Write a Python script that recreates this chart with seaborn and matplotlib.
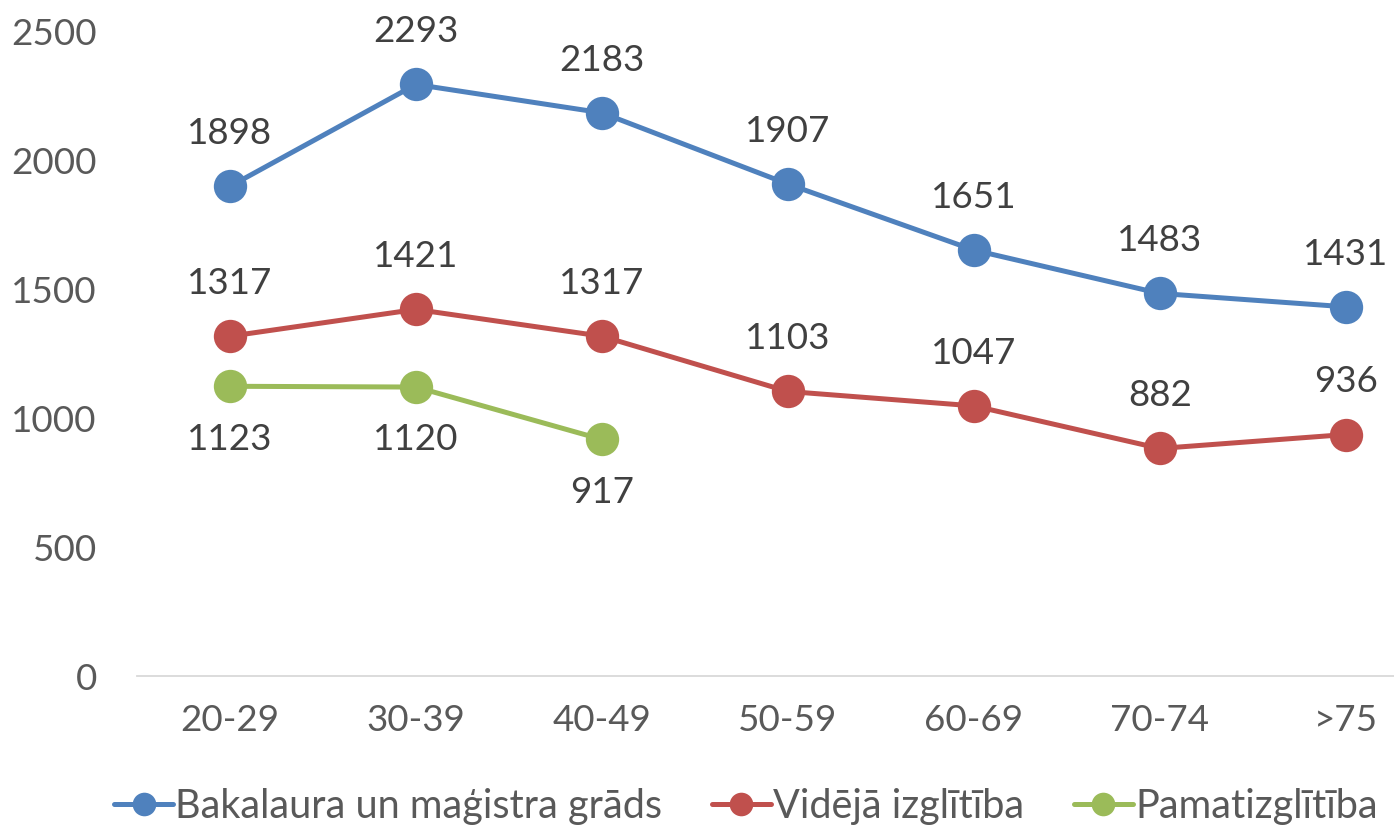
import matplotlib
matplotlib.use("Agg")
import matplotlib.pyplot as plt
from matplotlib.lines import Line2D
import seaborn as sns
import pandas as pd
import numpy as np

categories = ["20-29", "30-39", "40-49", "50-59", "60-69", "70-74", ">75"]
bakalaura = [1898, 2293, 2183, 1907, 1651, 1483, 1431]
videja = [1317, 1421, 1317, 1103, 1047, 882, 936]
pamat = [1123, 1120, 917, None, None, None, None]
series_names = ["Bakalaura un maģistra grāds", "Vidējā izglītība", "Pamatizglītība"]
colors = ["#4F81BD", "#C0504D", "#9BBB59"]
y_ticks = [0, 500, 1000, 1500, 2000, 2500]

sns.set_theme(style="white")
plt.rcParams['font.family'] = ['Lato', 'DejaVu Sans']

rows = []
for name, vals in zip(series_names, [bakalaura, videja, pamat]):
    for i, v in enumerate(vals):
        if v is not None:
            rows.append({"x": i, "val": v, "series": name})
df = pd.DataFrame(rows)

fig = plt.figure(figsize=(13.94, 8.25), dpi=100)
ax = fig.add_axes([0.0983, 0.1806, 0.9017, 0.7818])

sns.lineplot(data=df, x="x", y="val", hue="series", hue_order=series_names,
             palette=colors, marker="o", markersize=24, linewidth=3.6,
             markeredgewidth=0, ax=ax, legend=False)

FS = 26.5
label_offsets = [1, 1, -1]
for name, vals, off in zip(series_names, [bakalaura, videja, pamat], label_offsets):
    for i, v in enumerate(vals):
        if v is None:
            continue
        ax.annotate(f"{v}", (i, v), xytext=(0, 38 * off), textcoords="offset points",
                    ha="center", va="center", fontsize=FS, color="#404040")

ax.set_xlim(-0.5, 6.26)
ax.set_ylim(0, 2500)
ax.set_yticks(y_ticks)
ax.set_xticks(range(len(categories)))
ax.set_xticklabels(categories)
ax.tick_params(axis="both", labelsize=FS, colors="#595959", length=0)
ax.tick_params(axis="y", pad=29)
ax.tick_params(axis="x", pad=20)
ax.set_xlabel("")
ax.set_ylabel("")
for s in ["top", "right", "left"]:
    ax.spines[s].set_visible(False)
ax.spines["bottom"].set_color("#D9D9D9")
ax.spines["bottom"].set_linewidth(1.3)
ax.grid(False)

handles = [Line2D([0], [0], color=c, linewidth=3.6, marker="o", markersize=17,
                  markeredgewidth=0) for c in colors]
fig.legend(handles, series_names, loc="center", bbox_to_anchor=(0.535, 0.022),
           ncol=3, frameon=False, fontsize=28.5, labelcolor="#595959",
           handlelength=1.5, handletextpad=0.05, columnspacing=1.25)

fig.savefig("out.png", dpi=100)
